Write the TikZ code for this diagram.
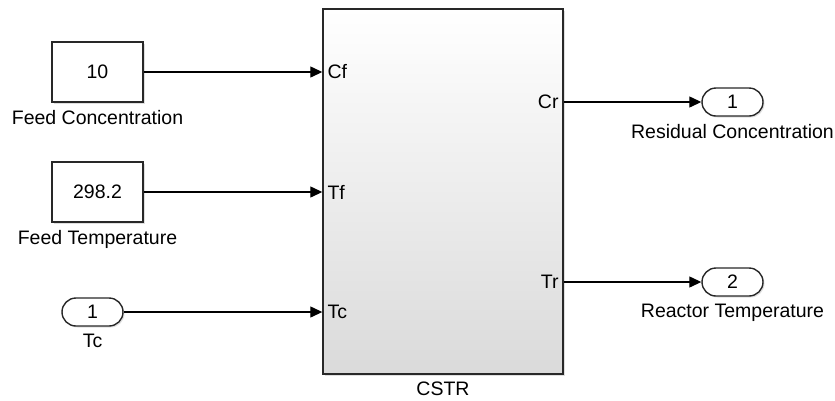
\documentclass[tikz,border=0pt]{standalone}
\usepackage{fontspec}
\setmainfont{Liberation Sans}
\usepackage{tikz}
\usetikzlibrary{arrows.meta,positioning,shadows}

\definecolor{blockline}{RGB}{40,40,40}
\definecolor{blockgray}{RGB}{218,218,218}

\begin{document}
\begin{tikzpicture}[
  x=1pt, y=-1pt,
  font=\fontsize{19.5}{23}\selectfont,
  const/.style={
    draw=blockline,
    line width=1.4pt,
    fill=white,
    minimum width=91pt,
    minimum height=60pt,
    inner sep=0pt,
    drop shadow={opacity=0.25,shadow xshift=1.5pt,shadow yshift=-1.5pt}
  },
  port/.style={
    draw=blockline,
    line width=1.4pt,
    fill=white,
    rounded corners=14pt,
    minimum width=61pt,
    minimum height=28pt,
    inner sep=0pt,
    drop shadow={opacity=0.25,shadow xshift=1.5pt,shadow yshift=-1.5pt}
  },
  subsys/.style={
    draw=blockline,
    line width=1.4pt,
    top color=white,
    bottom color=blockgray,
    minimum width=240pt,
    minimum height=365pt,
    inner sep=0pt,
    drop shadow={opacity=0.25,shadow xshift=2pt,shadow yshift=-2pt}
  },
  caption/.style={inner sep=1pt},
  portlabel/.style={inner sep=0pt},
  line/.style={-{Triangle[length=12pt,width=11pt]}, line width=1.3pt}
]

\useasboundingbox (0,0) rectangle (835,400);

% --- Sources ---
\node[const] (cf_src) at (97.5,72) {10};
\node[caption,below=6pt of cf_src] {Feed Concentration};

\node[const] (tf_src) at (97.5,192) {298.2};
\node[caption,below=6pt of tf_src] {Feed Temperature};

\node[port] (tc_in) at (92.5,312) {1};
\node[caption,below=6pt of tc_in] (tc_lbl) {Tc};

% --- Reactor subsystem ---
\node[subsys] (cstr) at (443,191.5) {};
\node[caption,below=6pt of cstr] {CSTR};

\coordinate (cstr_cf) at (cstr.west |- cf_src);
\coordinate (cstr_tf) at (cstr.west |- tf_src);
\coordinate (cstr_tc) at (cstr.west |- tc_in);
\coordinate (cstr_cr) at (cstr.east |- 0,102);
\coordinate (cstr_tr) at (cstr.east |- 0,282);

\node[portlabel,right=5pt of cstr_cf] {Cf};
\node[portlabel,right=5pt of cstr_tf] {Tf};
\node[portlabel,right=5pt of cstr_tc] {Tc};
\node[portlabel,left=5pt of cstr_cr] {Cr};
\node[portlabel,left=5pt of cstr_tr] {Tr};

% --- Outputs ---
\node[port] (cr_out) at (732.5,102) {1};
\node[caption,below=6pt of cr_out] {Residual Concentration};

\node[port] (tr_out) at (732.5,282) {2};
\node[caption,below=6pt of tr_out] {Reactor Temperature};

% Arrows
\draw[line] (cf_src) -- (cstr_cf);
\draw[line] (tf_src) -- (cstr_tf);
\draw[line] (tc_in) -- (cstr_tc);
\draw[line] (cstr_cr) -- (cr_out);
\draw[line] (cstr_tr) -- (tr_out);

\end{tikzpicture}
\end{document}
